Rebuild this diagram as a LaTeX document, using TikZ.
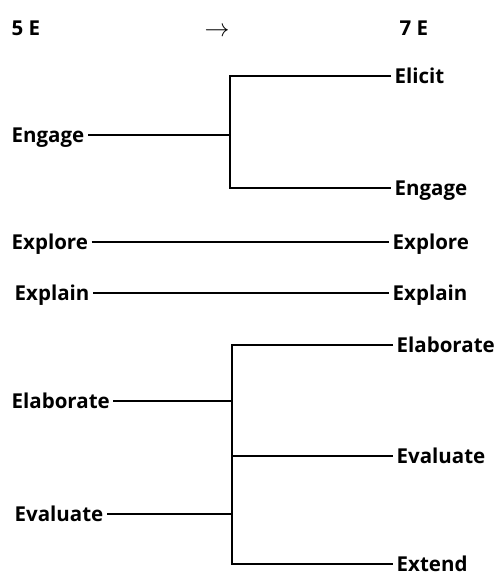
\documentclass[tikz,border=0pt]{standalone}
\usepackage{fontspec}
\setmainfont{Open Sans}
\usetikzlibrary{
    positioning
}

\tikzset{
    stage/.style={font=\bfseries\fontsize{20.5}{20.5}\selectfont,
                  text height=14.5pt, text depth=0pt, inner sep=3.5pt},
    link/.style={line width=1.2pt}
}

\begin{document}
\begin{tikzpicture}[x=1pt,y=-1pt]
    \useasboundingbox (0,0) rectangle (496,576);
    % headings
    \path (8,28)   node [stage,anchor=west] (fiveE)  {5 E}
          (217,29) node [stage,font=\fontsize{26}{26}\selectfont] (turn) {$\rightarrow$}
          (396,28) node [stage,anchor=west] (sevenE) {7 E};
    % 5E column
    \path (8,135)  node [stage,anchor=west] (engageL)    {Engage}
          (8,242)  node [stage,anchor=west] (exploreL)   {Explore}
          (11,293) node [stage,anchor=west] (explainL)   {Explain}
          (8,401)  node [stage,anchor=west] (elaborateL) {Elaborate}
          (11,514) node [stage,anchor=west] (evaluateL)  {Evaluate};
    % 7E column
    \path (391,76)  node [stage,anchor=west] (elicitR)    {Elicit}
          (391,188) node [stage,anchor=west] (engageR)    {Engage}
          (389,242) node [stage,anchor=west] (exploreR)   {Explore}
          (389,293) node [stage,anchor=west] (explainR)   {Explain}
          (393,345) node [stage,anchor=west] (elaborateR) {Elaborate}
          (393,456) node [stage,anchor=west] (evaluateR)  {Evaluate}
          (393,564) node [stage,anchor=west] (extendR)    {Extend};
    % brackets
    \coordinate (topA) at (230,76);
    \coordinate (midA) at (230,135);
    \coordinate (botA) at (230,188);
    \coordinate (topB) at (232,345);
    \coordinate (upB)  at (232,401);
    \coordinate (midB) at (232,456);
    \coordinate (lowB) at (232,514);
    \coordinate (botB) at (232,564);

    \draw [link] (engageL) -- (midA);
    \draw [link] (elicitR) -- (topA) -- (botA) -- (engageR);
    \draw [link] (exploreL) -- (exploreR);
    \draw [link] (explainL) -- (explainR);
    \draw [link] (elaborateR) -- (topB) -- (botB) -- (extendR);
    \draw [link] (elaborateL) -- (upB);
    \draw [link] (evaluateL) -- (lowB);
    \draw [link] (midB) -- (evaluateR);
\end{tikzpicture}
\end{document}
